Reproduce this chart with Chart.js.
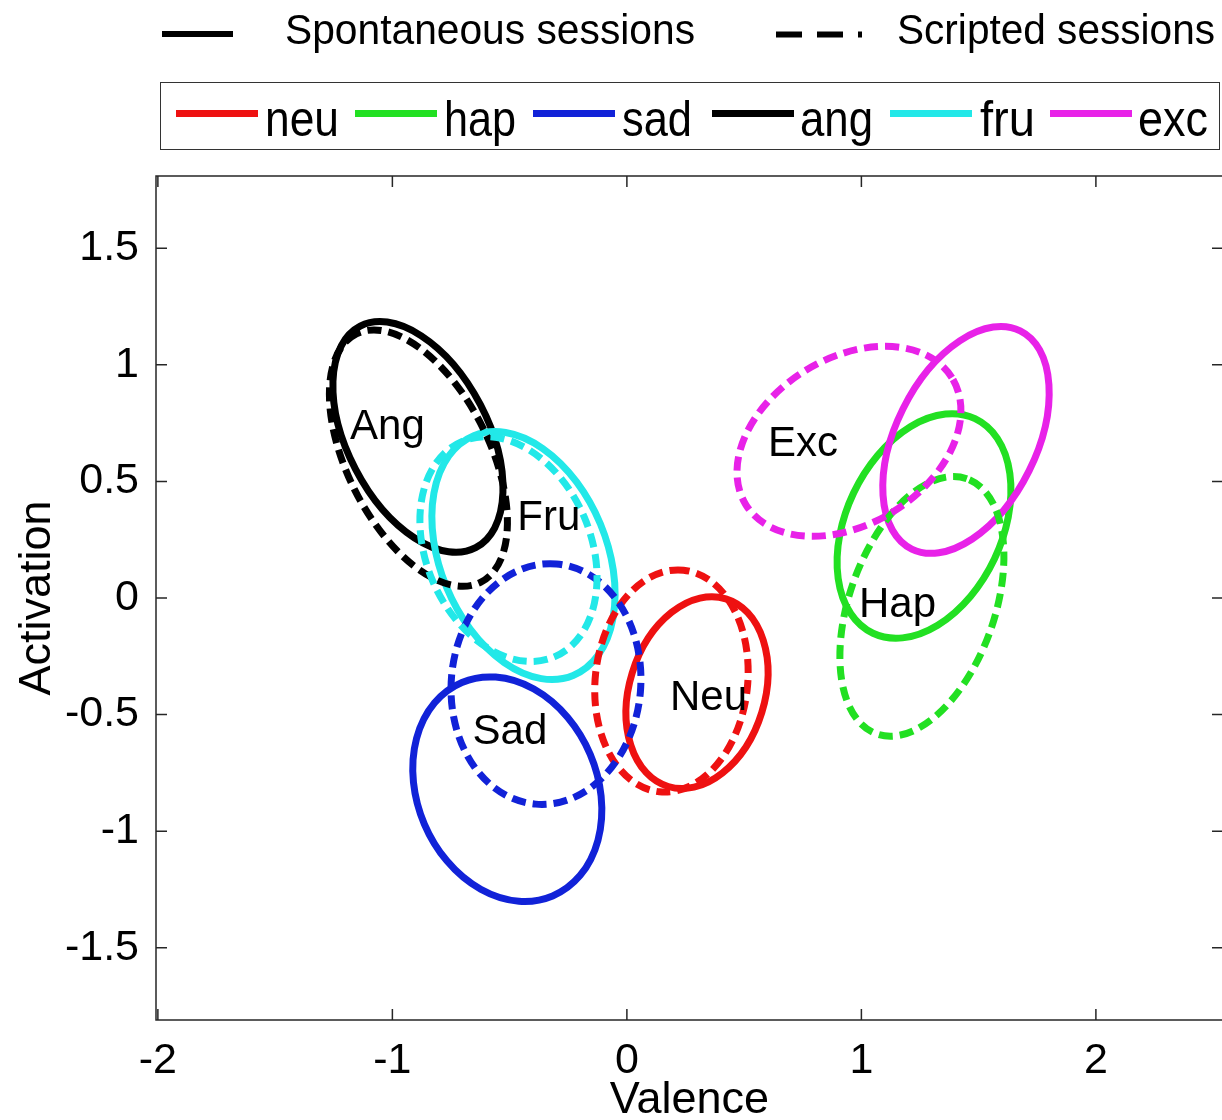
<!DOCTYPE html>
<html>
<head>
    <title>Activation / Valence ellipses</title>
    <script src="https://cdn.jsdelivr.net/npm/chart.js"></script>
    <style>
        body { margin: 0; overflow: hidden; background: #fff; }
        #wrap { position: relative; width: 1240px; height: 1140px; }
        #wrap canvas { position: absolute; left: 0; top: 0; }
        .txt {
            position: absolute;
            font-family: 'Liberation Sans', Arial, sans-serif;
            white-space: nowrap;
            color: #000;
            transform-origin: 0 0;
        }
        .top-txt { font-size: 43px; line-height: 43px; top: 8px; }
        .box-txt { font-size: 50px; line-height: 50px; top: 94px; }
        .sample { position: absolute; height: 7px; top: 110px; }
        #legendBox {
            position: absolute; left: 160px; top: 82px; width: 1060px; height: 68px;
            box-sizing: border-box; border: 1.5px solid #333;
        }
    </style>
</head>
<body>
<div id="wrap">
    <canvas id="chart" width="1240" height="1140"></canvas>

    <!-- legende haut : type de session -->
    <div style="position:absolute;left:162px;top:31px;width:71px;height:6px;background:#000"></div>
    <div class="txt top-txt" style="left:285px" data-w="410">Spontaneous sessions</div>
    <svg style="position:absolute;left:776px;top:29px" width="90" height="11">
        <line x1="0" y1="5.5" x2="86" y2="5.5" stroke="#000" stroke-width="6" stroke-dasharray="26 15"/>
    </svg>
    <div class="txt top-txt" style="left:897px" data-w="318">Scripted sessions</div>

    <!-- legende encadree : emotions -->
    <div id="legendBox"></div>
    <div id="legendItems"></div>
</div>

<script>
    // emotions et couleurs
    const emotions = ['neu', 'hap', 'sad', 'ang', 'fru', 'exc'];
    const colors = ['#ee1111', '#22e022', '#1122d8', '#000000', '#22e8e8', '#e822e8'];

    // ellipses des sessions spontanees (centre, demi-axes, angle en degres)
    const spontCx    = [ 0.299,  1.267, -0.510, -0.891, -0.441,  1.446];
    const spontCy    = [-0.406,  0.309, -0.820,  0.691,  0.182,  0.678];
    const spontMajor = [ 0.421,  0.509,  0.497,  0.535,  0.556,  0.522];
    const spontMinor = [ 0.289,  0.332,  0.384,  0.300,  0.355,  0.300];
    const spontAngle = [ 73.0,   64.7,  112.9,  117.4,  112.4,   63.7];

    // ellipses des sessions scriptees
    const scriptCx    = [ 0.190,  1.258, -0.345, -0.889, -0.505,  0.947];
    const scriptCy    = [-0.356, -0.036, -0.369,  0.600,  0.210,  0.672];
    const scriptMajor = [ 0.478,  0.580,  0.517,  0.595,  0.502,  0.517];
    const scriptMinor = [ 0.325,  0.310,  0.404,  0.304,  0.351,  0.356];
    const scriptAngle = [ 83.8,   70.7,   85.1,  116.4,  112.9,   31.9];

    // etiquettes dans le graphique
    const regionNames = ['Neu', 'Hap', 'Sad', 'Ang', 'Fru', 'Exc'];
    const regionX = [ 0.348,  1.154, -0.499, -1.021, -0.333,  0.751];
    const regionY = [-0.429, -0.030, -0.575,  0.732,  0.343,  0.657];

    // axes
    const xTicks = [-2, -1, 0, 1, 2];
    const yTicks = [-1.5, -1, -0.5, 0, 0.5, 1, 1.5];
    const X_MIN = -2.008, X_MAX = 2.542;
    const Y_MIN = -1.81, Y_MAX = 1.81;

    const FONT = "'Liberation Sans', Arial, sans-serif";

    // legende encadree
    const sampleLeft = [176, 355, 533, 712, 890, 1050];
    const textLeft = [265, 444, 622, 800, 980, 1138];
    const textWidth = [74, 72, 70, 73, 55, 70];
    const items = document.getElementById('legendItems');
    emotions.forEach((name, i) => {
        const line = document.createElement('div');
        line.className = 'sample';
        line.style.left = sampleLeft[i] + 'px';
        line.style.width = '82px';
        line.style.background = colors[i];
        items.appendChild(line);
        const t = document.createElement('div');
        t.className = 'txt box-txt';
        t.style.left = textLeft[i] + 'px';
        t.dataset.w = textWidth[i];
        t.textContent = name;
        items.appendChild(t);
    });

    // ajuster la largeur des textes de legende
    document.querySelectorAll('[data-w]').forEach(el => {
        const w = el.getBoundingClientRect().width;
        el.style.transform = 'scaleX(' + (el.dataset.w / w) + ')';
    });

    const datasets = [];
    emotions.forEach((name, i) => {
        datasets.push({
            label: name + ' spontaneous',
            data: [{ x: spontCx[i], y: spontCy[i] }],
            semiMajor: spontMajor[i], semiMinor: spontMinor[i], angle: spontAngle[i],
            borderColor: colors[i], borderDash: [],
            pointRadius: 0
        });
    });
    emotions.forEach((name, i) => {
        datasets.push({
            label: name + ' scripted',
            data: [{ x: scriptCx[i], y: scriptCy[i] }],
            semiMajor: scriptMajor[i], semiMinor: scriptMinor[i], angle: scriptAngle[i],
            borderColor: colors[i], borderDash: [14, 7],
            pointRadius: 0
        });
    });

    const ellipsePlugin = {
        id: 'ellipses',
        afterDatasetsDraw(chart) {
            const { ctx, chartArea, scales: { x, y } } = chart;
            const sx = x.getPixelForValue(1) - x.getPixelForValue(0);
            const sy = y.getPixelForValue(0) - y.getPixelForValue(1);

            ctx.save();
            ctx.beginPath();
            ctx.rect(chartArea.left, chartArea.top, chartArea.right - chartArea.left, chartArea.bottom - chartArea.top);
            ctx.clip();

            chart.data.datasets.forEach(ds => {
                const c = ds.data[0];
                ctx.save();
                ctx.translate(x.getPixelForValue(c.x), y.getPixelForValue(c.y));
                ctx.scale(sx, -sy);
                ctx.rotate(ds.angle * Math.PI / 180);
                ctx.beginPath();
                ctx.ellipse(0, 0, ds.semiMajor, ds.semiMinor, 0, 0, 2 * Math.PI);
                ctx.restore();
                ctx.strokeStyle = ds.borderColor;
                ctx.lineWidth = 7;
                ctx.setLineDash(ds.borderDash);
                ctx.stroke();
            });
            ctx.setLineDash([]);

            // noms des emotions
            ctx.fillStyle = '#000';
            ctx.font = '42px ' + FONT;
            ctx.textAlign = 'center';
            ctx.textBaseline = 'middle';
            regionNames.forEach((n, i) => {
                ctx.fillText(n, x.getPixelForValue(regionX[i]), y.getPixelForValue(regionY[i]));
            });
            ctx.restore();

            // cadre et graduations interieures
            const { left, right, top, bottom } = chartArea;
            ctx.save();
            ctx.strokeStyle = '#262626';
            ctx.lineWidth = 1.5;
            ctx.strokeRect(left, top, right - left, bottom - top);
            ctx.beginPath();
            xTicks.forEach(v => {
                const px = x.getPixelForValue(v);
                ctx.moveTo(px, bottom); ctx.lineTo(px, bottom - 11);
                ctx.moveTo(px, top); ctx.lineTo(px, top + 11);
            });
            yTicks.forEach(v => {
                const py = y.getPixelForValue(v);
                ctx.moveTo(left, py); ctx.lineTo(left + 11, py);
                ctx.moveTo(right, py); ctx.lineTo(right - 11, py);
            });
            ctx.stroke();
            ctx.restore();
        }
    };

    const chart = new Chart(document.getElementById('chart'), {
        type: 'scatter',
        data: { datasets: datasets },
        options: {
            responsive: false,
            animation: false,
            devicePixelRatio: 1,
            layout: { padding: { top: 176, right: 17, left: 0, bottom: 0 } },
            plugins: { legend: { display: false }, tooltip: { enabled: false } },
            scales: {
                x: {
                    type: 'linear',
                    min: X_MIN, max: X_MAX,
                    afterBuildTicks: s => { s.ticks = xTicks.map(v => ({ value: v })); },
                    afterFit: s => { s.height = 120; },
                    grid: { display: false },
                    border: { display: false },
                    ticks: {
                        font: { family: FONT, size: 43 }, color: '#000', padding: 7,
                        maxRotation: 0, autoSkip: false, callback: v => String(v)
                    },
                    title: {
                        display: true, text: 'Valence', color: '#000',
                        font: { family: FONT, size: 45 }, padding: { top: 0, bottom: 12 }
                    }
                },
                y: {
                    type: 'linear',
                    min: Y_MIN, max: Y_MAX,
                    afterBuildTicks: s => { s.ticks = yTicks.map(v => ({ value: v })); },
                    afterFit: s => { s.width = 156; },
                    grid: { display: false },
                    border: { display: false },
                    ticks: {
                        font: { family: FONT, size: 43 }, color: '#000', padding: 9,
                        autoSkip: false, callback: v => String(v)
                    },
                    title: {
                        display: true, text: 'Activation', color: '#000',
                        font: { family: FONT, size: 45 }, padding: { top: 10.4, bottom: 0 }
                    }
                }
            }
        },
        plugins: [ellipsePlugin]
    });
</script>
</body>
</html>
